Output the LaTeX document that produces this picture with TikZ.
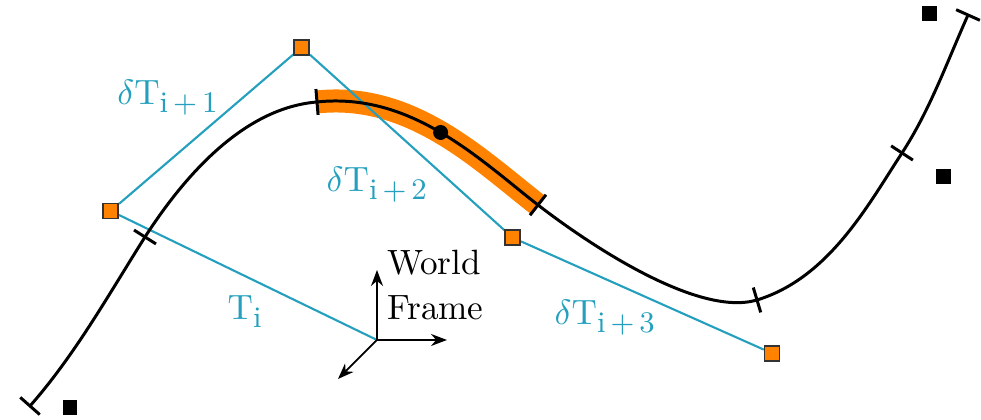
\documentclass[tikz,border=0pt]{standalone}
\usepackage{amsmath,xcolor}
\definecolor{splcyan}{RGB}{36,160,190}
\definecolor{splorange}{RGB}{255,131,0}
\usetikzlibrary{arrows.meta,positioning}
\newcommand{\subtxt}[1]{\text{\fontsize{8.5}{10}\selectfont #1}}
\tikzset{
  curve/.style={black, line width=0.85pt},
  band/.style={splorange, line width=0.23cm},
  ctrlline/.style={splcyan, line width=0.6pt},
  ctrlpt/.style={draw=black!80, fill=splorange, line width=0.45pt,
                 minimum size=0.15cm, inner sep=0pt},
  datapt/.style={fill=black, minimum size=0.15cm, inner sep=0pt},
  knot/.style={sloped, inner sep=0pt, minimum width=0pt, minimum height=0.23cm},
  sample/.style={circle, fill=black, minimum size=0.15cm, inner sep=0pt},
  lbl/.style={splcyan, anchor=base west, inner sep=0pt},
  axis/.style={black, line width=0.5pt, -{Stealth[length=1.6mm, width=1.2mm]}},
}

\begin{document}
\begin{tikzpicture}
\useasboundingbox (0,0) rectangle (9.81,4.20);

% --- Knots of the spline ---
\coordinate (p0) at (0.30,0.14);
\coordinate (p1) at (1.45,1.83);
\coordinate (p2) at (3.17,3.18);
\coordinate (p3) at (5.38,2.15);
\coordinate (p4) at (7.57,1.20);
\coordinate (p5) at (9.02,2.67);
\coordinate (p6) at (9.68,4.05);
\coordinate (a2) at (4.11,3.28);
\coordinate (b2) at (4.79,2.61);

% --- Control points and world frame ---
\node[ctrlpt] (c0) at (1.107,2.09) {};
\node[ctrlpt] (c1) at (3.017,3.727) {};
\node[ctrlpt] (c2) at (5.127,1.823) {};
\node[ctrlpt] (c3) at (7.72,0.667) {};
\coordinate (o) at (3.77,0.80);
\coordinate (ax) at (4.47,0.80);
\coordinate (ay) at (3.77,1.50);
\coordinate (az) at (3.38,0.41);

% Active segment
\draw[band] (p2) .. controls (a2) and (b2) .. (p3) coordinate[pos=0.5] (mid);

% Control polygon
\draw[ctrlline] (o) -- (c0) -- (c1) -- (c2) -- (c3);

% Spline
\draw[curve] (p0) .. controls (0.75,0.65) and (1.09,1.26) .. (p1)
    node[knot, pos=0] (t0) {} node[knot, pos=1] (t1) {}
  .. controls (1.85,2.45) and (2.44,3.12) .. (p2) node[knot, pos=1] (t2) {}
  .. controls (a2) and (b2) .. (p3) node[knot, pos=1] (t3) {}
  .. controls (5.95,1.71) and (7.00,1.03) .. (p4) node[knot, pos=1] (t4) {}
  .. controls (8.29,1.42) and (8.68,2.15) .. (p5) node[knot, pos=1] (t5) {}
  .. controls (9.30,3.10) and (9.47,3.58) .. (p6) node[knot, pos=1] (t6) {};
\foreach \k in {t0,t1,t2,t3,t4,t5,t6}
  \draw[curve] (\k.north) -- (\k.south);
\node[sample] (pt) at (mid) {};

% Measurements
\node[datapt] (d0) at (0.70,0.12) {};
\node[datapt] (d1) at (9.29,4.06) {};
\node[datapt] (d2) at (9.43,2.43) {};

% Redraw control points on top
\foreach \c in {c0,c1,c2,c3}
  \node[ctrlpt] at (\c) {};

% Labels
\node[lbl] (l0) at (2.27,1.00) {$\mathrm{T}_{\subtxt{i}}$};
\node[lbl] (l1) at (1.167,3.15) {$\delta\mathrm{T}_{\subtxt{i\,+\,1}}$};
\node[lbl] (l2) at (3.26,2.283) {$\delta\mathrm{T}_{\subtxt{i\,+\,2}}$};
\node[lbl] (l3) at (5.54,0.95) {$\delta\mathrm{T}_{\subtxt{i\,+\,3}}$};

% World frame
\draw[axis] (o) -- (ay);
\draw[axis] (o) -- (ax);
\draw[axis] (o) -- (az);
\node[anchor=north west, align=left, inner sep=0pt] (frame) at (3.865,1.705)
  {World\\[0.8pt]Frame};

\end{tikzpicture}
\end{document}
